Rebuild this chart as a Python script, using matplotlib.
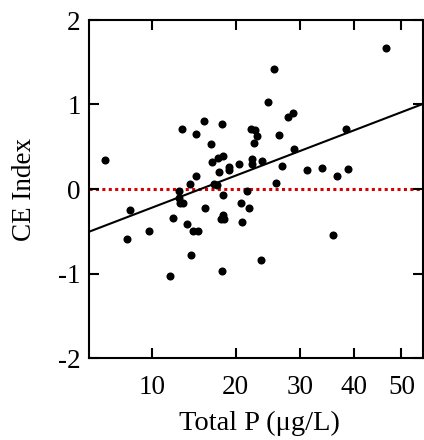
import matplotlib
matplotlib.use("Agg")
import matplotlib.pyplot as plt
import numpy as np

# Total P (ug/L) and CE index
total_p = [5.89, 46.54, 25.73, 24.74, 28.05, 28.88, 13.19, 14.83, 15.85, 18.17,
           16.66, 22.20, 22.80, 23.10, 22.72, 26.61, 29.00, 38.57, 16.82, 17.56,
           18.33, 19.12, 19.14, 20.47, 22.35, 22.38, 23.86, 27.05, 31.18, 33.86,
           36.80, 38.92, 14.89, 17.73, 14.09, 17.08, 17.54, 26.01, 12.85, 21.57,
           12.80, 12.93, 13.30, 18.29, 20.82, 21.94, 15.91, 7.90, 12.19, 13.80,
           18.30, 18.04, 18.40, 20.97, 14.51, 15.04, 9.72, 7.70, 36.00, 14.23,
           23.78, 18.09, 11.88]
ce_index = [0.339, 1.663, 1.418, 1.027, 0.850, 0.901, 0.712, 0.649, 0.809, 0.771,
            0.531, 0.714, 0.697, 0.623, 0.543, 0.641, 0.479, 0.709, 0.322, 0.361,
            0.395, 0.262, 0.223, 0.292, 0.351, 0.296, 0.337, 0.271, 0.223, 0.247,
            0.152, 0.236, 0.150, 0.197, 0.058, 0.058, 0.046, 0.067, -0.021, -0.025,
            -0.104, -0.171, -0.171, -0.069, -0.161, -0.230, -0.226, -0.252, -0.344, -0.414,
            -0.313, -0.352, -0.356, -0.388, -0.498, -0.498, -0.502, -0.597, -0.539, -0.781,
            -0.845, -0.967, -1.034]

# regression line end points
fit_x = [4.73, 54.9]
fit_y = [-0.506, 1.007]

x_ticks = [10, 20, 30, 40, 50]
y_ticks = [-2, -1, 0, 1, 2]

plt.rcParams["font.family"] = ["Liberation Serif", "DejaVu Serif"]
plt.rcParams["axes.unicode_minus"] = False

fig = plt.figure(figsize=(4.24, 4.40), dpi=100)
ax = fig.add_axes([89 / 424, 1 - 358 / 440, 334 / 424, 338 / 440])

ax.set_xscale("function", functions=(np.sqrt, np.square))

ax.axhline(0, color="#d40000", lw=2.2, ls=(0, (1, 1.1)), zorder=1)
ax.plot(fit_x, fit_y, color="black", lw=1.5, zorder=2)
ax.plot(total_p, ce_index, "o", color="black", ms=5.8, mec="none", zorder=3)

ax.set_xlim(4.73, 54.9)
ax.set_ylim(-2, 2)
ax.set_xticks(x_ticks)
ax.set_xticklabels([str(t) for t in x_ticks])
ax.set_yticks(y_ticks)
ax.set_yticklabels([str(t) for t in y_ticks])
ax.xaxis.set_minor_locator(matplotlib.ticker.NullLocator())

for s in ax.spines.values():
    s.set_linewidth(1.5)
ax.tick_params(direction="in", length=7, width=1.5, top=True, right=True,
               labelsize=19.5)
ax.tick_params(axis="x", pad=12)
ax.tick_params(axis="y", pad=6)

ax.set_xlabel("Total P (\u03bcg/L)", fontsize=20.5, labelpad=8)
ax.xaxis.set_label_coords(0.51, -0.155)
ax.set_ylabel("CE Index", fontsize=19.5, labelpad=15)

fig.savefig("out.png", dpi=100)
